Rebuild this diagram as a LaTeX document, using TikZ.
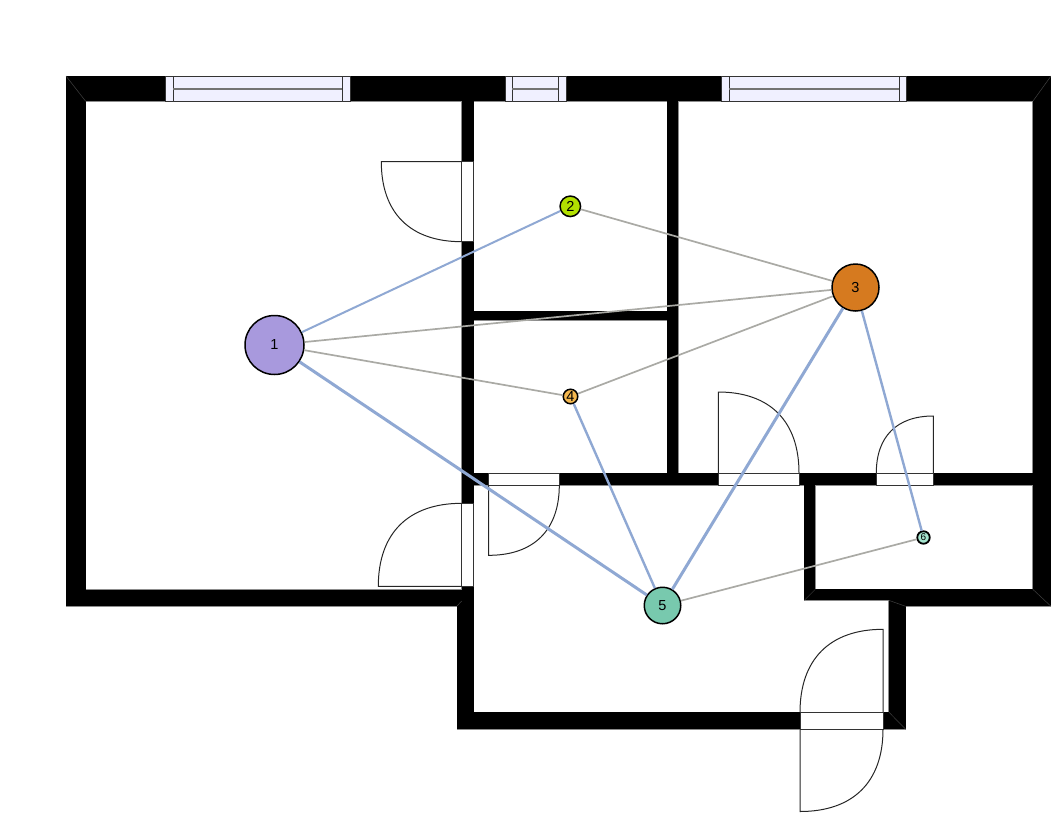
\documentclass[tikz,border=0pt]{standalone}
\usepackage{fontspec}
\setmainfont{Liberation Sans}
\definecolor{wallEdge}{HTML}{8C8C8C}
\definecolor{glass}{HTML}{F0F0FF}
\definecolor{linkBlue}{HTML}{8FA8D3}
\definecolor{linkGray}{HTML}{AAAAA5}
\definecolor{nodeA}{HTML}{A899DD}
\definecolor{nodeB}{HTML}{B2E000}
\definecolor{nodeC}{HTML}{D67A1F}
\definecolor{nodeD}{HTML}{F5B84F}
\definecolor{nodeE}{HTML}{78C9AE}
\definecolor{nodeF}{HTML}{A5E5CF}
\tikzset{
  wallpart/.style={fill=black,draw=none},
  wallrim/.style={draw=wallEdge,line width=1pt},
  miter/.style={draw=black!75,line width=0.5pt},
  winframe/.style={fill=glass,draw=black!80,line width=0.9pt},
  winbar/.style={draw=black!55,line width=1.2pt},
  doorgap/.style={fill=white,draw=black!80,line width=1pt},
  leaf/.style={draw=black!85,line width=1pt},
  room/.style={circle,draw=black,line width=1.5pt,inner sep=0pt,font=\fontsize{14.5}{15}\selectfont},
  heavy/.style={draw=linkBlue,line width=3pt},
  medium/.style={draw=linkBlue,line width=2.4pt},
  light/.style={draw=linkBlue,line width=2pt},
  plain/.style={draw=linkGray,line width=1.7pt}
}
\newcommand{\wallset}[1]{
  \path[#1] (66,76) rectangle (1051,101.3);
  \path[#1] (66,76) rectangle (85.7,606.3);
  \path[#1] (1032.8,76) rectangle (1051,606.3);
  \path[#1] (66,589.5) rectangle (473.7,606.3);
  \path[#1] (461.7,101) rectangle (473.7,606);
  \path[#1] (457,604) rectangle (473.7,729.3);
  \path[#1] (667.3,101) rectangle (678.3,480);
  \path[#1] (473,311) rectangle (672,320);
  \path[#1] (462,473) rectangle (1040,485);
  \path[#1] (804.3,480) rectangle (815.3,600.3);
  \path[#1] (804.3,589.3) rectangle (905.7,600.3);
  \path[#1] (888.7,589.3) rectangle (1051,606.3);
  \path[#1] (888.7,595) rectangle (905.7,729.3);
  \path[#1] (457,712.3) rectangle (905.7,729.3);
}
\begin{document}
\begin{tikzpicture}[x=1pt,y=-1pt]
\useasboundingbox (0,0) rectangle (1051,812);
% walls
\wallset{wallrim}
\wallset{wallpart}
\draw[miter] (66,76) -- (85.7,101.3);
\draw[miter] (1051,76) -- (1032.8,101.3);
\draw[miter] (1051,606.3) -- (1032.8,589.3);
\draw[miter] (804.3,600.3) -- (815.3,589.3);
\draw[miter] (905.7,729.3) -- (889,712.3);
\draw[miter] (888.7,600.3) -- (905.7,606.3);
\draw[miter] (461.7,601) -- (457,606);
% windows
\foreach \a/\b/\c/\d in {165.7/173.3/342.3/350, 505/512.3/558.3/566, 721.7/729.3/899.3/906.7}{
  \path[winframe] (\a,76.3) rectangle (\d,101.3);
  \draw[winframe] (\b,76.3) -- (\b,101.3);
  \draw[winframe] (\c,76.3) -- (\c,101.3);
  \draw[winbar] (\b,88.9) -- (\c,88.9);
}
% doors
\path[doorgap] (461.7,161.7) rectangle (473.7,241.7);
\draw[leaf] (461.7,161.7) -- (381.3,161.7) .. controls (381.3,212.9) and (410.2,241.7) .. (461.7,241.7);
\path[doorgap] (461.7,503.3) rectangle (473.7,586.3);
\draw[leaf] (461.7,586.3) -- (378.3,586.3) .. controls (378.3,533.2) and (408.3,503.3) .. (461.7,503.3);
\path[doorgap] (488.7,473) rectangle (559.3,485);
\draw[leaf] (488.7,485) -- (488.7,555.3) .. controls (533.9,555.3) and (559.3,530) .. (559.3,485);
\path[doorgap] (718.3,473) rectangle (799,485);
\draw[leaf] (718.3,473) -- (718.3,392) .. controls (769.9,392) and (799,421.2) .. (799,473);
\path[doorgap] (876.3,473) rectangle (933.3,485);
\draw[leaf] (933.3,473) -- (933.3,416) .. controls (896.8,416) and (876.3,436.5) .. (876.3,473);
\path[doorgap] (800,712.3) rectangle (883,729.3);
\draw[leaf] (883,712.3) -- (883,629.3) .. controls (829.9,629.3) and (800,659.2) .. (800,712.3);
\draw[leaf] (800,729.3) -- (800,811.5) .. controls (853.1,811.5) and (883,782) .. (883,729.3);
% rooms
\node[room,fill=nodeA,minimum size=59pt] (r1) at (274.5,345) {1};
\node[room,fill=nodeB,minimum size=20.5pt] (r2) at (570.3,206.3) {2};
\node[room,fill=nodeC,minimum size=47pt] (r3) at (855.5,287.5) {3};
\node[room,fill=nodeD,minimum size=14.5pt] (r4) at (570.5,396.5) {4};
\node[room,fill=nodeE,minimum size=36.5pt] (r5) at (662.5,605.5) {5};
\node[room,fill=nodeF,minimum size=12.5pt,line width=1.8pt,font=\fontsize{10}{11}\selectfont] (r6) at (923.5,537.5) {6};
% links
\draw[plain] (r2) -- (r3);
\draw[plain] (r1) -- (r3);
\draw[plain] (r1) -- (r4);
\draw[plain] (r3) -- (r4);
\draw[plain] (r5) -- (r6);
\draw[light] (r1) -- (r2);
\draw[heavy] (r1) -- (r5);
\draw[medium] (r4) -- (r5);
\draw[heavy] (r3) -- (r5);
\draw[medium] (r3) -- (r6);
\end{tikzpicture}
\end{document}
